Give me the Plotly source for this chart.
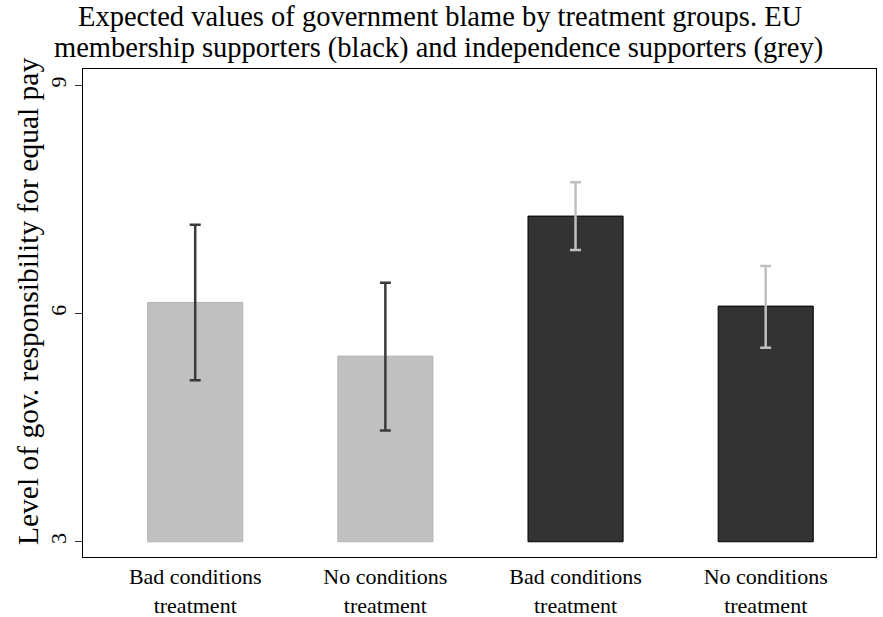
import plotly.graph_objects as go

categories = ["Bad conditions<br>treatment", "No conditions<br>treatment",
              "Bad conditions<br>treatment", "No conditions<br>treatment"]
groups = ["independence", "independence", "EU membership", "EU membership"]
means = [6.145, 5.44, 7.28, 6.097]
ci_upper = [7.167, 6.404, 7.724, 6.624]
ci_lower = [5.124, 4.461, 6.834, 5.549]
y_ticks = [3, 6, 9]
baseline = 3
title_lines = ["Expected values of government blame by treatment groups. EU",
               "membership supporters (black) and independence supporters (grey)"]
y_title = "Level of gov. responsibility for equal pay"

bar_fill = {"independence": "#c0c0c0", "EU membership": "#333333"}
bar_edge = {"independence": "#b4b4b4", "EU membership": "#000000"}
err_col = {"independence": "#3a3a3a", "EU membership": "#c0c0c0"}

xs = list(range(len(categories)))
fig = go.Figure()
for g in ["independence", "EU membership"]:
    idx = [i for i in xs if groups[i] == g]
    fig.add_trace(go.Bar(
        x=[xs[i] for i in idx],
        y=[means[i] - baseline for i in idx],
        base=baseline,
        width=0.5,
        marker=dict(color=bar_fill[g], line=dict(color=bar_edge[g], width=1)),
        showlegend=False, hoverinfo="skip"))
    fig.add_trace(go.Scatter(
        x=[xs[i] for i in idx],
        y=[means[i] for i in idx],
        mode="markers",
        marker=dict(size=1, opacity=0),
        error_y=dict(type="data", symmetric=False,
                     array=[ci_upper[i] - means[i] for i in idx],
                     arrayminus=[means[i] - ci_lower[i] for i in idx],
                     color=err_col[g], thickness=2.5, width=5.5),
        showlegend=False, hoverinfo="skip"))

serif = "Liberation Serif, Times New Roman, serif"
L, R, T, B = 83, 876, 69, 557
def paper_y(px):
    return (B - px) / (B - T)
def paper_x(px):
    return (px - L) / (R - L)

fig.add_annotation(text=title_lines[0], xref="paper", yref="paper",
                   x=paper_x(440), y=paper_y(16), xanchor="center", yanchor="middle",
                   showarrow=False, font=dict(size=28.5, family=serif, color="black"))
fig.add_annotation(text=title_lines[1], xref="paper", yref="paper",
                   x=paper_x(438), y=paper_y(48), xanchor="center", yanchor="middle",
                   showarrow=False, font=dict(size=28.5, family=serif, color="black"))
fig.add_annotation(text=y_title, xref="paper", yref="paper", textangle=-90,
                   x=paper_x(28), y=paper_y(302), xanchor="center", yanchor="middle",
                   showarrow=False, font=dict(size=29.5, family=serif, color="black"))

fig.update_layout(
    width=883, height=617,
    margin=dict(l=L, r=883 - R, t=T, b=617 - B, autoexpand=False),
    paper_bgcolor="white", plot_bgcolor="white",
    font=dict(family=serif, color="black"),
    xaxis=dict(range=[-0.59, 3.58], tickvals=xs, ticktext=categories,
               automargin=False,
               showgrid=False, zeroline=False, ticks="",
               showline=True, mirror=True, linecolor="black", linewidth=1,
               tickfont=dict(size=22)),
    yaxis=dict(range=[2.8, 9.213], tickvals=y_ticks, ticktext=[str(t) for t in y_ticks],
               automargin=False,
               tickangle=-90, showgrid=False, zeroline=False,
               ticks="outside", ticklen=7, tickcolor="#333333", tickwidth=1,
               showline=True, mirror=True, linecolor="black", linewidth=1,
               tickfont=dict(size=22)),
)
fig.write_html("out.html", config={"displayModeBar": False},
               post_script="document.body.style.margin='0';"
                           "document.body.style.overflow='hidden';")
